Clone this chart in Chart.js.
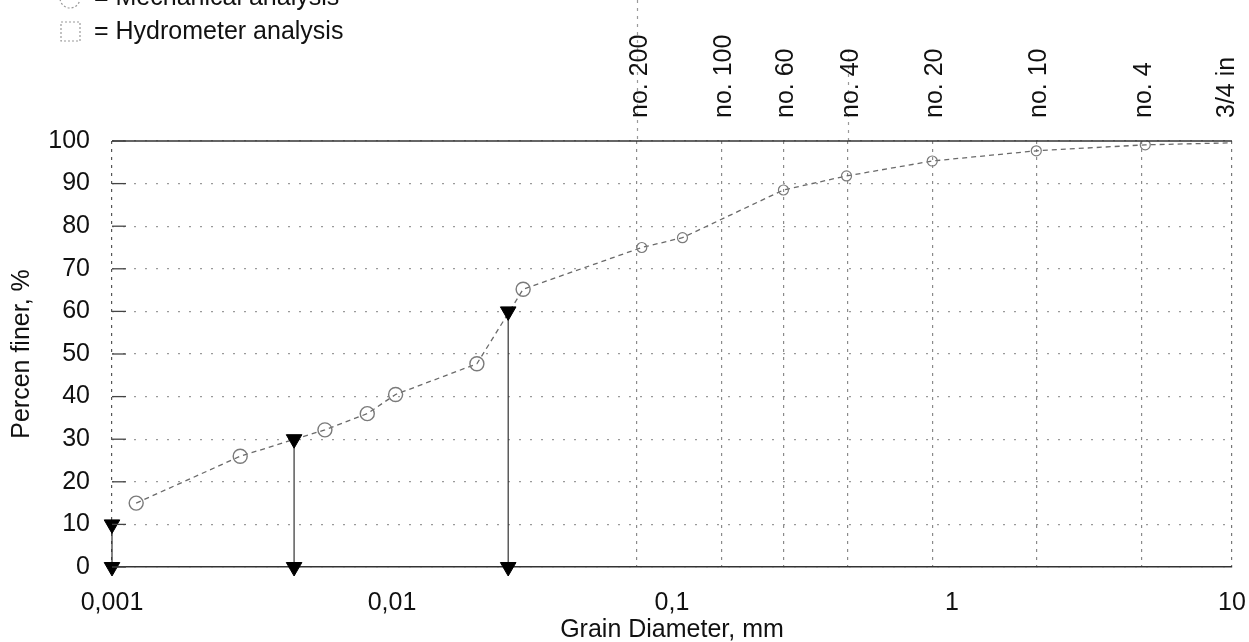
<!DOCTYPE html>
<html>
<head>
<meta charset="utf-8">
<script src="https://cdn.jsdelivr.net/npm/chart.js@4/dist/chart.umd.min.js"></script>
<style>
html,body{margin:0;padding:0;background:#fff;}
#wrap{position:relative;width:1249px;height:642px;overflow:hidden;}
canvas{display:block;}
</style>
</head>
<body>
<div id="wrap"><canvas id="c" width="1249" height="642"></canvas></div>
<script>
// ---- data ----
const hydroDiameters = [0.00122, 0.00287, 0.00576, 0.00816, 0.0103, 0.0201, 0.0294];
const hydroFiner     = [15, 26, 32.2, 36, 40.5, 47.7, 65.2];
const mechDiameters  = [0.078, 0.109, 0.25, 0.42, 0.85, 2.0, 4.9, 19.0];
const mechFiner      = [75, 77.3, 88.5, 91.8, 95.3, 97.7, 99.1, 100];
const dNames         = ['D10', 'D30', 'D60'];
const dDiameters     = [0.001, 0.00447, 0.026];
const dFiner         = [10, 30, 60];
const sieveNames     = ['no. 200', 'no. 100', 'no. 60', 'no. 40', 'no. 20', 'no. 10', 'no. 4', '3/4 in'];
const sieveSizes     = [0.075, 0.15, 0.25, 0.425, 0.85, 2.0, 4.75, 19.0];
const xTickValues    = [0.001, 0.01, 0.1, 1, 10];
const xTickLabels    = ['0,001', '0,01', '0,1', '1', '10'];
const yTickStep      = 10;
const legendLabels   = ['= Mechanical analysis', '= Hydrometer analysis'];
const xTitle = 'Grain Diameter, mm';
const yTitle = 'Percen finer, %';

const FONT = "'Liberation Sans', Arial, sans-serif";
Chart.defaults.font.family = FONT;
Chart.defaults.color = '#111';

const pts = (xs, ys) => xs.map((x, i) => ({x: x, y: ys[i]}));
const same = (a, b) => Math.abs(a - b) <= Math.abs(b) * 1e-9;
const XMIN = xTickValues[0], XMAX = xTickValues[xTickValues.length - 1];

const datasets = [
  {
    label: 'curve',
    data: pts(hydroDiameters, hydroFiner).concat(pts(mechDiameters, mechFiner)),
    showLine: true, borderColor: '#6a6a6a', borderWidth: 1.3, borderDash: [5, 4],
    pointRadius: 0, fill: false, order: 5
  },
  {
    label: 'Hydrometer analysis',
    data: pts(hydroDiameters, hydroFiner),
    showLine: false, pointStyle: 'circle', pointRadius: 7,
    pointBorderColor: '#7a7a7a', pointBackgroundColor: 'rgba(255,255,255,0)', pointBorderWidth: 1.4, order: 3
  },
  {
    label: 'Mechanical analysis',
    data: pts(mechDiameters, mechFiner),
    showLine: false, pointStyle: 'circle', pointRadius: 5,
    pointBorderColor: '#7a7a7a', pointBackgroundColor: 'rgba(255,255,255,0)', pointBorderWidth: 1.2, order: 3
  }
].concat(dNames.map((n, i) => ({
  label: n,
  data: [{x: dDiameters[i], y: dFiner[i]}, {x: dDiameters[i], y: 0}],
  showLine: true, borderColor: '#333', borderWidth: 1.2,
  pointStyle: 'triangle', rotation: 180, pointRadius: 9,
  pointBackgroundColor: '#000', pointBorderColor: '#000', pointBorderWidth: 1,
  clip: false, order: 1
})));

const decorPlugin = {
  id: 'decor',
  beforeDatasetsDraw(chart) {
    const {ctx, chartArea: a, scales: {x}} = chart;
    // dotted extensions of the no. 200 and no. 40 sieve lines above the plot
    ctx.save();
    ctx.strokeStyle = '#9a9a9a'; ctx.lineWidth = 1.2; ctx.setLineDash([3, 5]);
    [[sieveSizes[0], 0], [sieveSizes[3], 50]].forEach(([v, top]) => {
      const px = Math.round(x.getPixelForValue(v)) + 0.5;
      ctx.beginPath(); ctx.moveTo(px, top); ctx.lineTo(px, a.top); ctx.stroke();
    });
    ctx.restore();
  },
  afterDatasetsDraw(chart) {
    const {ctx, chartArea: a, scales: {x, y}} = chart;
    ctx.save();
    // solid line at 100 %
    ctx.strokeStyle = '#333'; ctx.lineWidth = 1.5;
    ctx.beginPath(); ctx.moveTo(a.left, y.getPixelForValue(100)); ctx.lineTo(a.right, y.getPixelForValue(100)); ctx.stroke();
    // inward tick marks on y axis
    ctx.strokeStyle = '#444'; ctx.lineWidth = 1.3;
    for (let v = 0; v <= 100; v += yTickStep) {
      const py = y.getPixelForValue(v);
      ctx.beginPath(); ctx.moveTo(a.left, py); ctx.lineTo(a.left + 14, py); ctx.stroke();
    }
    ctx.restore();
  },
  afterDraw(chart) {
    const {ctx, chartArea: a, scales: {x}} = chart;
    ctx.save();
    // sieve labels (rotated)
    ctx.font = '25px ' + FONT; ctx.fillStyle = '#111';
    ctx.textAlign = 'left'; ctx.textBaseline = 'middle';
    sieveNames.forEach((name, i) => {
      let px = x.getPixelForValue(sieveSizes[i]);
      if (px > a.right) px = a.right - 8;
      ctx.save();
      ctx.translate(px + 3, a.top - 23);
      ctx.rotate(-Math.PI / 2);
      ctx.fillText(name, 0, 0);
      ctx.restore();
    });
    // legend
    ctx.font = '25px ' + FONT; ctx.textBaseline = 'middle'; ctx.textAlign = 'left';
    ctx.strokeStyle = '#999'; ctx.lineWidth = 1.2; ctx.setLineDash([2, 2]);
    ctx.beginPath(); ctx.arc(70, -2, 10, 0, Math.PI * 2); ctx.stroke();
    ctx.strokeRect(61, 22, 19, 19);
    ctx.setLineDash([]);
    ctx.fillText(legendLabels[0], 94, -2);
    ctx.fillText(legendLabels[1], 94, 32);
    ctx.restore();
  }
};

new Chart(document.getElementById('c'), {
  type: 'scatter',
  data: {datasets: datasets},
  plugins: [decorPlugin],
  options: {
    responsive: false, animation: false, devicePixelRatio: 1,
    layout: {padding: {top: 141, right: 17, bottom: 0, left: 0}},
    plugins: {legend: {display: false}, tooltip: {enabled: false}},
    scales: {
      x: {
        type: 'logarithmic', min: XMIN, max: XMAX,
        afterBuildTicks: (s) => {
          const vals = xTickValues.concat(sieveSizes.filter(v => v > XMIN && v < XMAX)).sort((p, q) => p - q);
          s.ticks = vals.map(v => ({value: v}));
        },
        afterFit: (s) => { s.height = 75; },
        ticks: {
          autoSkip: false, maxRotation: 0, padding: 0,
          font: {size: 25}, color: '#111',
          callback: (v) => { const k = xTickValues.findIndex(t => same(v, t)); return k >= 0 ? xTickLabels[k] : ''; }
        },
        grid: {
          drawTicks: true, tickLength: 21, tickColor: 'rgba(0,0,0,0)', lineWidth: 1.2,
          color: (c) => {
            const v = c.tick ? c.tick.value : null;
            if (v === null) return 'rgba(0,0,0,0)';
            if (same(v, XMIN)) return '#555';
            if (same(v, XMAX)) return '#777';
            if (sieveSizes.some(s => same(v, s))) return '#8a8a8a';
            return 'rgba(0,0,0,0)';
          }
        },
        border: {display: true, color: '#333', width: 1.6, dash: [3, 5]},
        title: {display: true, text: xTitle, font: {size: 25}, color: '#111', padding: {top: 0, bottom: -3}}
      },
      y: {
        min: 0, max: 100,
        afterFit: (s) => { s.width = 112; },
        ticks: {stepSize: yTickStep, padding: 22, font: {size: 25}, color: '#111'},
        grid: {drawTicks: false, color: '#9a9a9a', lineWidth: 1.2},
        border: {display: false, dash: [2, 9]},
        title: {display: true, text: yTitle, font: {size: 25}, color: '#111', padding: {top: 7, bottom: 0}}
      }
    }
  }
});
</script>
</body>
</html>
